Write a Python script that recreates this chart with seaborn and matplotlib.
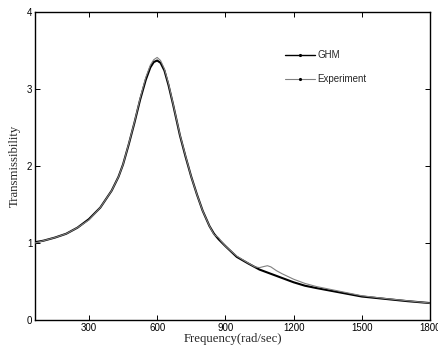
import numpy as np
import pandas as pd
import matplotlib
matplotlib.use("Agg")
import matplotlib.pyplot as plt
from matplotlib.lines import Line2D
import seaborn as sns

# GHM model curve
ghm_freq = [62.8, 100, 150, 200, 250, 300, 350, 400, 430, 450, 475, 500, 525, 550, 570,
            585, 600, 615, 632, 650, 670, 700, 725, 750, 775, 800, 830, 850, 870, 900,
            950, 1000, 1050, 1100, 1150, 1200, 1250, 1300, 1400, 1500, 1600, 1700, 1800]
ghm_val = [1.01, 1.03, 1.07, 1.12, 1.20, 1.31, 1.46, 1.68, 1.86, 2.02, 2.28, 2.56, 2.86, 3.12, 3.28,
           3.35, 3.37, 3.34, 3.24, 3.05, 2.80, 2.40, 2.12, 1.86, 1.63, 1.42, 1.22, 1.12, 1.05, 0.96,
           0.82, 0.735, 0.655, 0.60, 0.545, 0.49, 0.445, 0.415, 0.36, 0.305, 0.275, 0.245, 0.22]

# Experiment curve
exp_freq = [62.8, 100, 150, 200, 250, 300, 350, 400, 430, 450, 475, 500, 525, 550, 570,
            585, 600, 615, 632, 650, 670, 700, 725, 750, 775, 800, 830, 850, 870, 880, 900,
            950, 1000, 1030, 1050, 1070, 1085, 1100, 1115, 1125, 1150, 1200, 1250, 1300,
            1400, 1500, 1600, 1700, 1800]
exp_val = [1.00, 1.03, 1.07, 1.12, 1.20, 1.30, 1.46, 1.68, 1.86, 2.02, 2.29, 2.57, 2.88, 3.15, 3.31,
           3.38, 3.41, 3.37, 3.26, 3.07, 2.81, 2.41, 2.13, 1.86, 1.63, 1.42, 1.22, 1.11, 1.07, 1.03, 0.96,
           0.83, 0.74, 0.69, 0.68, 0.695, 0.705, 0.69, 0.66, 0.64, 0.60, 0.53, 0.475, 0.435,
           0.375, 0.315, 0.28, 0.25, 0.22]

x_ticks = [300, 600, 900, 1200, 1500, 1800]
y_ticks = [0, 1, 2, 3, 4]

sns.set_style("ticks")
plt.rcParams['font.family'] = ['Liberation Sans', 'DejaVu Sans']

fig = plt.figure(figsize=(4.38, 3.51), dpi=100)
ax = fig.add_axes([35/438, 1-320/351, (430-35)/438, (320-12)/351])

df_g = pd.DataFrame({"f": ghm_freq, "T": ghm_val})
df_e = pd.DataFrame({"f": exp_freq, "T": exp_val})
sns.lineplot(data=df_e, x="f", y="T", ax=ax, color="#808080", linewidth=0.8, zorder=3)
sns.lineplot(data=df_g, x="f", y="T", ax=ax, color="black", linewidth=1.5, zorder=2)

ax.set_xlim(62.8, 1800)
ax.set_ylim(0, 4)
ax.set_xticks(x_ticks)
ax.set_yticks(y_ticks)
ax.set_xticklabels([str(t) for t in x_ticks])
ax.set_yticklabels([str(t) for t in y_ticks])
ax.tick_params(direction="in", length=3.5, width=0.7, top=True, right=True,
               labelsize=7, pad=2, colors="black")
for s in ax.spines.values():
    s.set_visible(True)
    s.set_linewidth(1.0)
    s.set_color("black")

ax.set_xlabel("Frequency(rad/sec)", family=["Liberation Serif"], fontsize=9.2, labelpad=0)
ax.set_ylabel("Transmissibility", family=["Liberation Serif"], fontsize=9.2, labelpad=4)

handles = [Line2D([0], [0], color="black", lw=1.0, marker=".", markersize=2.5),
           Line2D([0], [0], color="#808080", lw=0.8, marker=".", markersize=2.5,
                  markerfacecolor="black", markeredgecolor="black")]
ax.legend(handles, ["GHM", "Experiment"], loc="upper left", bbox_to_anchor=(0.612, 0.905),
          frameon=False, fontsize=7, handlelength=3.0, handletextpad=0.3, labelspacing=1.45)

fig.savefig("out.png", dpi=100)
